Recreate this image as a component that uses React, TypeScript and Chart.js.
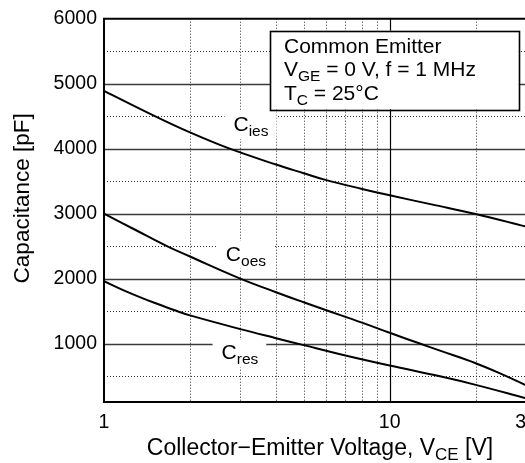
import React, { useEffect, useRef } from "react";
import { Chart, registerables } from "chart.js";

Chart.register(...registerables);

const FONT = "'Liberation Sans', Arial, Helvetica, sans-serif";

// axis ticks
const voltageTicks = [1, 10, 30];
const capTicks = [1000, 2000, 3000, 4000, 5000, 6000];
const minorVoltage = [2, 3, 4, 5, 6, 7, 8, 9, 20, 30];
const majorVoltage = [10];
const minorCap = [500, 1500, 2500, 3500, 4500, 5500];
const majorCap = [1000, 2000, 3000, 4000, 5000];

// series (V_CE [V], capacitance [pF])
const ciesV = [1, 1.5, 2, 2.74, 4, 5, 6, 8, 10, 14, 20, 30];
const ciesC = [4890, 4505, 4250, 4003, 3755, 3622, 3515, 3380, 3282, 3142, 2995, 2800];
const coesV = [1, 1.3, 1.66, 2, 3, 4, 5, 6, 8, 10, 12.6, 15, 20, 25, 30];
const coesC = [3000, 2740, 2500, 2340, 2000, 1790, 1635, 1513, 1322, 1165, 1008, 890, 697, 518, 358];
const cresV = [1, 1.2, 1.5, 1.8, 2, 3, 4, 5, 7, 10, 15, 20, 30];
const cresC = [1960, 1800, 1627, 1500, 1433, 1222, 1082, 975, 817, 662, 495, 364, 158];

// curve labels (anchor in data units)
const labelSubs = ["ies", "oes", "res"];
const labelV = [2.84, 2.67, 2.58];
const labelC = [4268, 2276, 755];

// annotation box (data units)
const boxV = [3.81, 28.3];
const boxC = [5816, 4606];

function drawSub(ctx: CanvasRenderingContext2D, x: number, y: number, main: string, sub: string, rest: string, size: number, subSize: number) {
  ctx.font = `${size}px ${FONT}`;
  ctx.fillText(main, x, y);
  let cx = x + ctx.measureText(main).width;
  ctx.font = `${subSize}px ${FONT}`;
  ctx.fillText(sub, cx, y + 5);
  cx += ctx.measureText(sub).width;
  if (rest) {
    ctx.font = `${size}px ${FONT}`;
    ctx.fillText(rest, cx, y);
    cx += ctx.measureText(rest).width;
  }
  return cx - x;
}

function measureSub(ctx: CanvasRenderingContext2D, main: string, sub: string, rest: string, size: number, subSize: number) {
  ctx.font = `${size}px ${FONT}`;
  let w = ctx.measureText(main + rest).width;
  ctx.font = `${subSize}px ${FONT}`;
  w += ctx.measureText(sub).width;
  return w;
}

const gridPlugin = {
  id: "customGrid",
  beforeDatasetsDraw(chart: any) {
    const ctx: CanvasRenderingContext2D = chart.ctx;
    const { left, right, top, bottom } = chart.chartArea;
    const xs = chart.scales.x;
    const ys = chart.scales.y;
    ctx.save();
    // minor dotted lines
    ctx.strokeStyle = "#333";
    ctx.lineWidth = 1;
    ctx.setLineDash([1, 2]);
    minorVoltage.forEach((v) => {
      const px = Math.round(xs.getPixelForValue(v)) + 0.5;
      ctx.beginPath();
      ctx.moveTo(px, top);
      ctx.lineTo(px, bottom);
      ctx.stroke();
    });
    minorCap.forEach((c) => {
      const py = Math.round(ys.getPixelForValue(c)) + 0.5;
      ctx.beginPath();
      ctx.moveTo(left, py);
      ctx.lineTo(right, py);
      ctx.stroke();
    });
    ctx.setLineDash([]);
    // major solid lines
    ctx.strokeStyle = "#3a3a3a";
    ctx.lineWidth = 1.3;
    majorCap.forEach((c) => {
      const py = Math.round(ys.getPixelForValue(c)) + 0.5;
      ctx.beginPath();
      ctx.moveTo(left, py);
      ctx.lineTo(right, py);
      ctx.stroke();
    });
    ctx.strokeStyle = "#000";
    ctx.lineWidth = 1.2;
    majorVoltage.forEach((v) => {
      const px = Math.round(xs.getPixelForValue(v)) + 0.5;
      ctx.beginPath();
      ctx.moveTo(px, top);
      ctx.lineTo(px, bottom);
      ctx.stroke();
    });
    // frame: top, left, bottom
    ctx.lineWidth = 2;
    ctx.beginPath();
    ctx.moveTo(right + 5, top);
    ctx.lineTo(left, top);
    ctx.lineTo(left, bottom);
    ctx.lineTo(right + 5, bottom);
    ctx.stroke();

    // curve labels with white background
    ctx.textBaseline = "alphabetic";
    ctx.textAlign = "left";
    labelSubs.forEach((sub, i) => {
      const x = xs.getPixelForValue(labelV[i]);
      const y = ys.getPixelForValue(labelC[i]);
      const w = measureSub(ctx, "C", sub, "", 21, 15.5);
      ctx.fillStyle = "#fff";
      ctx.fillRect(x - 9, y - 20, w + 17, 28);
      ctx.fillStyle = "#000";
      drawSub(ctx, x, y, "C", sub, "", 21, 15.5);
    });

    // annotation box
    const bx0 = xs.getPixelForValue(boxV[0]);
    const bx1 = xs.getPixelForValue(boxV[1]);
    const by0 = ys.getPixelForValue(boxC[0]);
    const by1 = ys.getPixelForValue(boxC[1]);
    ctx.fillStyle = "#fff";
    ctx.fillRect(bx0, by0, bx1 - bx0, by1 - by0);
    ctx.strokeStyle = "#000";
    ctx.lineWidth = 1.6;
    ctx.strokeRect(Math.round(bx0) + 0.5, Math.round(by0) + 0.5, Math.round(bx1 - bx0), Math.round(by1 - by0));
    ctx.fillStyle = "#000";
    const tx = bx0 + 14;
    ctx.font = `21px ${FONT}`;
    ctx.fillText("Common Emitter", tx, by0 + 22);
    drawSub(ctx, tx, by0 + 45.5, "V", "GE", " = 0 V, f = 1 MHz", 21, 15.5);
    drawSub(ctx, tx, by0 + 69, "T", "C", " = 25°C", 21, 15.5);
    ctx.restore();
  },
  afterDraw(chart: any) {
    const ctx: CanvasRenderingContext2D = chart.ctx;
    const { left, right, top, bottom } = chart.chartArea;
    ctx.save();
    ctx.fillStyle = "#000";
    ctx.textBaseline = "alphabetic";
    ctx.textAlign = "left";
    // x title
    const w = measureSub(ctx, "Collector−Emitter Voltage, V", "CE", " [V]", 23, 17);
    const cx = (left + right) / 2 + 5;
    drawSub(ctx, cx - w / 2, bottom + 53, "Collector−Emitter Voltage, V", "CE", " [V]", 23, 17);
    // y title
    ctx.translate(29, (top + bottom) / 2 - 12);
    ctx.rotate(-Math.PI / 2);
    ctx.textAlign = "center";
    ctx.font = `22.5px ${FONT}`;
    ctx.fillText("Capacitance [pF]", 0, 0);
    ctx.restore();
  },
};

export default function App() {
  const ref = useRef<HTMLCanvasElement | null>(null);
  useEffect(() => {
    if (!ref.current) return;
    const mk = (vs: number[], cs: number[]) => ({
      data: vs.map((v, i) => ({ x: v, y: cs[i] })),
      borderColor: "#000",
      borderWidth: 2,
      pointRadius: 0,
      fill: false,
      tension: 0.4,
    });
    const chart = new Chart(ref.current, {
      type: "line",
      data: {
        datasets: [mk(ciesV, ciesC), mk(coesV, coesC), mk(cresV, cresC)],
      },
      options: {
        responsive: false,
        animation: false,
        devicePixelRatio: 1,
        layout: { padding: { left: 0, right: 44, top: 17, bottom: 0 } },
        plugins: { legend: { display: false }, tooltip: { enabled: false } },
        scales: {
          x: {
            type: "logarithmic",
            min: 1,
            max: 30,
            afterBuildTicks: (a: any) => {
              a.ticks = voltageTicks.map((v) => ({ value: v }));
            },
            afterFit: (s: any) => {
              s.height = 61;
            },
            grid: { display: false, drawTicks: false },
            border: { display: false },
            ticks: {
              autoSkip: false,
              maxRotation: 0,
              padding: 9,
              color: "#000",
              font: { family: FONT, size: 19.5 },
              callback: (v: any) => String(v),
            },
          },
          y: {
            type: "linear",
            min: 100,
            max: 6000,
            afterBuildTicks: (a: any) => {
              a.ticks = capTicks.map((v) => ({ value: v }));
            },
            afterFit: (s: any) => {
              s.width = 104;
            },
            grid: { display: false, drawTicks: false },
            border: { display: false },
            ticks: {
              padding: 7,
              color: "#000",
              font: { family: FONT, size: 19.5 },
              callback: (v: any) => String(v),
            },
          },
        },
      } as any,
      plugins: [gridPlugin],
    });
    return () => chart.destroy();
  }, []);
  return (
    <div style={{ position: "fixed", left: 0, top: 0, width: 525, height: 463, overflow: "hidden", background: "#fff" }}>
      <canvas ref={ref} width={570} height={463} style={{ display: "block" }} />
    </div>
  );
}
